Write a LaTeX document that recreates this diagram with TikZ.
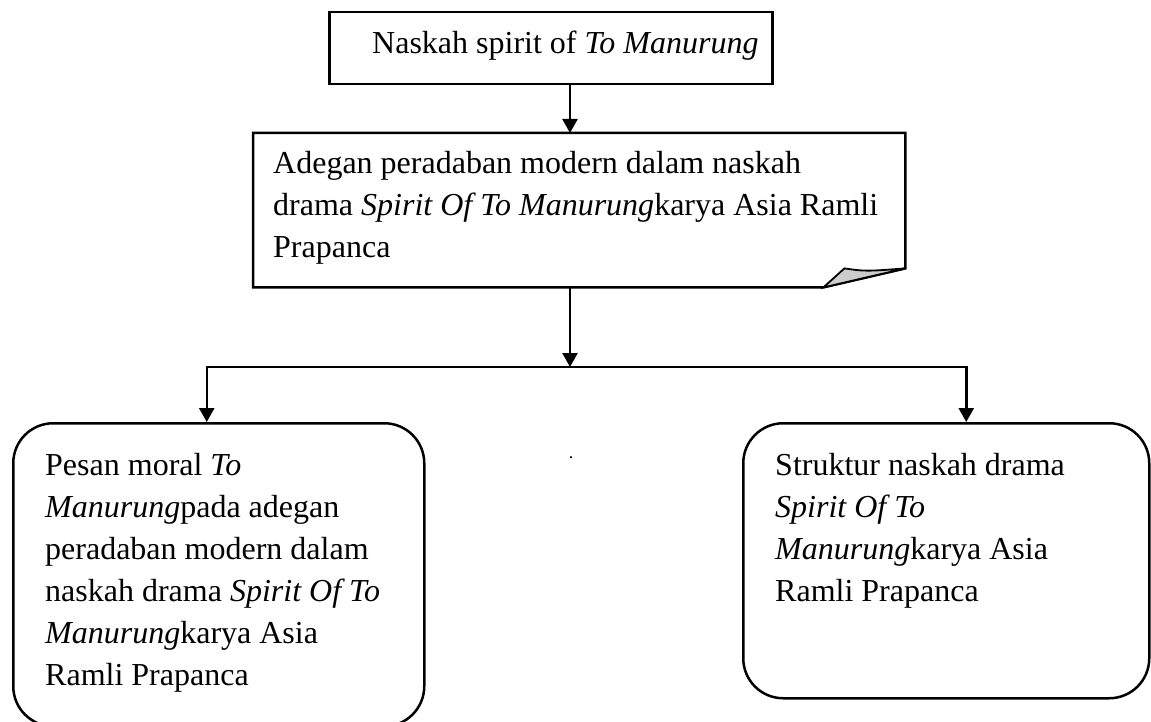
\documentclass[tikz,border=0pt]{standalone}
\usepackage{fontspec}
\setmainfont{Liberation Serif}
\usepackage{xcolor}
\usetikzlibrary{arrows.meta}
\definecolor{foldGray}{HTML}{CCCCCC}

\begin{document}
\begin{tikzpicture}[x=1pt, y=-1pt,
    box/.style={draw, line width=2.5pt, anchor=north west},
    roundbox/.style={box, rounded corners=40pt},
    txt/.style={anchor=north west, inner sep=0pt, align=left, font=\fontsize{32}{42}\selectfont},
    arr/.style={line width=2.5pt, -{Triangle[length=14pt, width=15pt]}}]
  \useasboundingbox (0, 0) rectangle (1151, 722);

  % Title box
  \node[box, minimum width=443, minimum height=72] (naskah) at (328, 11) {};
  \node[txt] (naskahText) at (372, 31) {Naskah spirit of \textit{To Manurung}};

  % Scene box with folded corner
  \node[anchor=north west, minimum width=652, minimum height=154] (adegan) at (253, 133) {};
  \draw[line width=2.5pt] (adegan.north west) -- (adegan.north east) -- ([yshift=19pt]adegan.south east)
    -- ([xshift=-82pt]adegan.south east) -- (adegan.south west) -- cycle;
  \draw[line width=1.8pt, fill=foldGray] ([xshift=-82pt]adegan.south east)
    -- ([xshift=-61pt, yshift=19pt]adegan.south east)
    .. controls ([xshift=-40pt, yshift=16pt]adegan.south east) .. ([yshift=19pt]adegan.south east) -- cycle;
  \node[txt] (adeganText) at (273, 151) {Adegan peradaban modern dalam naskah\\
    drama \textit{Spirit Of To Manurung}karya Asia Ramli\\
    Prapanca};

  % Result boxes
  \node[roundbox, minimum width=411, minimum height=303] (moral) at (12, 422) {};
  \node[txt] (moralText) at (45, 453) {Pesan moral \textit{To}\\
    \textit{Manurung}pada adegan\\
    peradaban modern dalam\\
    naskah drama \textit{Spirit Of To}\\
    \textit{Manurung}karya Asia\\
    Ramli Prapanca};

  \node[roundbox, minimum width=406, minimum height=275] (struktur) at (742, 422) {};
  \node[txt] (strukturText) at (775, 453) {Struktur naskah drama\\
    \textit{Spirit Of To}\\
    \textit{Manurung}karya Asia\\
    Ramli Prapanca};

  \node[anchor=base, inner sep=0pt, font=\fontsize{18}{20}\selectfont] (dot) at (571, 458) {.};

  % Connectors
  \coordinate (split) at (570, 367);
  \draw[arr] (split |- naskah.south) -- (split |- adegan.north);
  \draw[arr] (split |- adegan.south) -- (split);
  \draw[arr] (split) -| ([xshift=-12pt]moral.north);
  \draw[arr] (split) -| ([xshift=20pt]struktur.north);
\end{tikzpicture}
\end{document}
